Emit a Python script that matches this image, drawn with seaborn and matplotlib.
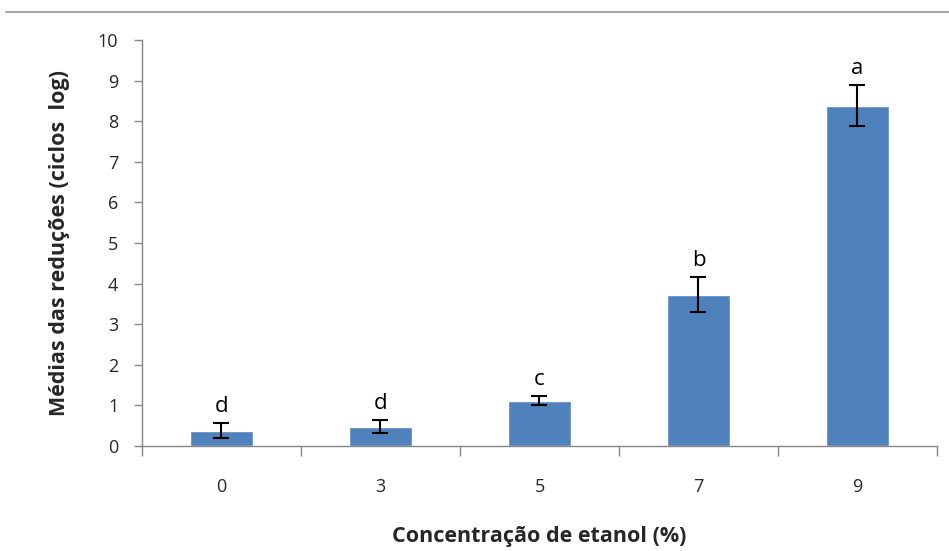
import pandas as pd
import matplotlib
matplotlib.use('Agg')
import matplotlib.pyplot as plt
import seaborn as sns
from matplotlib.lines import Line2D

sns.set_style('white')
plt.rcParams['font.family'] = ['Open Sans', 'DejaVu Sans']

# dados
concentracoes = ['0', '3', '5', '7', '9']
medias = [0.38, 0.47, 1.12, 3.72, 8.38]
erros = [0.19, 0.16, 0.12, 0.43, 0.50]
letras = ['d', 'd', 'c', 'b', 'a']

df = pd.DataFrame({'conc': concentracoes, 'media': medias, 'erro': erros})

fig = plt.figure(figsize=(9.49, 5.51), dpi=100)
ax = fig.add_axes([0.1496, 0.1906, 0.8377, 0.7368])

sns.barplot(data=df, x='conc', y='media', order=concentracoes, color='#4F81BD',
            width=0.4, saturation=1, errorbar=None, ax=ax)
ax.errorbar(range(len(medias)), medias, yerr=erros, fmt='none', ecolor='black',
            elinewidth=1.5, capsize=5.5, capthick=1.5)

for i, (m, e, l) in enumerate(zip(medias, erros, letras)):
    ax.text(i, m + e + 0.15, l, ha='center', va='bottom', fontsize=16, color='black')

ax.set_ylim(0, 10)
ax.set_xlim(-0.5, len(concentracoes) - 0.5)
ax.set_yticks(range(0, 11))
ax.tick_params(axis='y', which='major', direction='out', length=6, width=1,
               color='#868686', labelsize=13, pad=11, left=True)
ax.set_xticks(range(len(concentracoes)))
ax.tick_params(axis='x', which='major', length=0, labelsize=13, pad=23)
ax.set_xticks([x - 0.5 for x in range(len(concentracoes) + 1)], minor=True)
ax.tick_params(axis='x', which='minor', direction='out', length=7, width=1,
               color='#868686', bottom=True)

for s in ['top', 'right']:
    ax.spines[s].set_visible(False)
for s in ['left', 'bottom']:
    ax.spines[s].set_color('#868686')
    ax.spines[s].set_linewidth(1)

ax.set_ylabel('Médias das reduções (ciclos  log)', fontsize=15.5, fontweight='bold', labelpad=20)
ax.set_xlabel('Concentração de etanol (%)', fontsize=15.5, fontweight='bold', labelpad=22)

# linha cinza no topo da figura
fig.add_artist(Line2D([0.006, 1.0], [0.978, 0.978], color='#A6A6A6', lw=1.5,
                      transform=fig.transFigure))

fig.savefig('out.png', dpi=100)
